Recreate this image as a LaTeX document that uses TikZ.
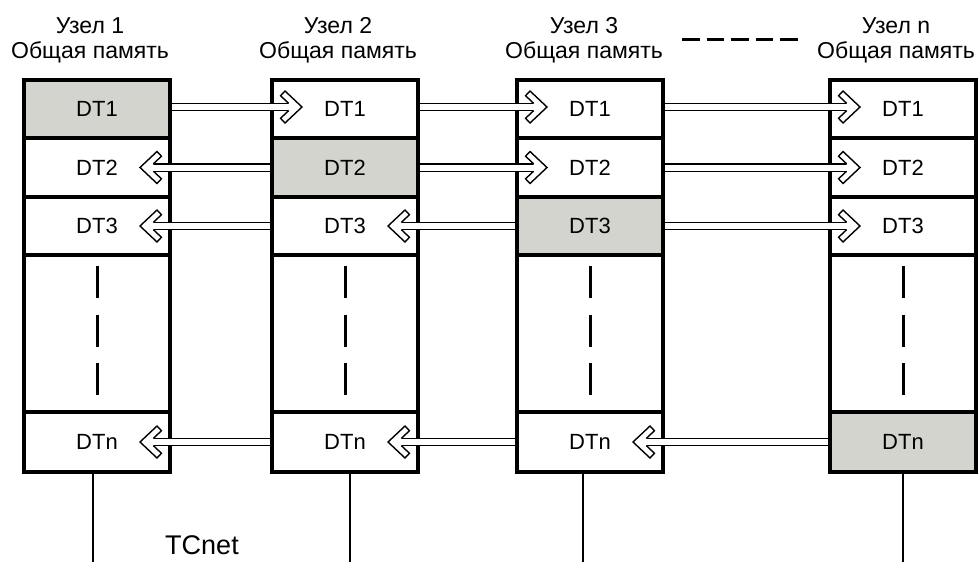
\documentclass[tikz,border=0pt]{standalone}
\usepackage{fontspec}
\setmainfont{Liberation Sans}
\usepackage{tikz}
\usetikzlibrary{positioning}
\usepackage{xcolor}

\definecolor{cellgray}{RGB}{212,212,207}

% hollow chevron head for the double transfer lines
\pgfdeclarearrow{
  name = Chevron,
  setup code = {
    \pgfarrowssettipend{0pt}
    \pgfarrowssetlineend{-12pt}
    \pgfarrowssetvisualbackend{-12pt}
    \pgfarrowssetbackend{-22pt}
    \pgfarrowshullpoint{0pt}{0pt}
    \pgfarrowshullpoint{-22pt}{17pt}
    \pgfarrowshullpoint{-22pt}{-17pt}
  },
  drawing code = {
    \pgfsetlinewidth{1.4pt}
    \pgfsetmiterjoin
    \pgfsetbuttcap
    \pgfsetfillcolor{white}
    \pgfsetstrokecolor{black}
    \pgfpathmoveto{\pgfqpoint{-13.4pt}{3.7pt}}
    \pgfpathlineto{\pgfqpoint{-21.45pt}{11.27pt}}
    \pgfpathlineto{\pgfqpoint{-17pt}{16pt}}
    \pgfpathlineto{\pgfqpoint{0pt}{0pt}}
    \pgfpathlineto{\pgfqpoint{-17pt}{-16pt}}
    \pgfpathlineto{\pgfqpoint{-21.45pt}{-11.27pt}}
    \pgfpathlineto{\pgfqpoint{-13.4pt}{-3.7pt}}
    \pgfusepathqfillstroke
  }
}

\tikzset{
    cell/.style={draw, line width=3.5pt, minimum width=146pt, inner sep=0pt,
        outer sep=0pt, font=\fontsize{22}{26}\selectfont},
    owncell/.style={cell, fill=cellgray},
    head/.style={anchor=base, font=\fontsize{23}{27}\selectfont},
    xfer/.style={line width=1.4pt, double=white, double distance=6pt, -{Chevron}},
    vgap/.style={line width=3pt, dash pattern=on 32pt off 16.5pt},
    bus/.style={line width=2pt}
}

\begin{document}
\begin{tikzpicture}[x=1pt, y=-1pt]

    \useasboundingbox (0, 0) rectangle (979, 562);

    % Coordinates for the top left corners of the nodes
    \coordinate (C1) at (24, 80);    % Узел 1
    \coordinate (C2) at (272, 80);   % Узел 2
    \coordinate (C3) at (517, 80);   % Узел 3
    \coordinate (C4) at (830, 80);   % Узел n

    % Headers
    \node[head] (h1) at (90, 33) {Узел 1};
    \node[head] (m1) at (90, 58) {Общая память};
    \node[head] (h2) at (338, 33) {Узел 2};
    \node[head] (m2) at (338, 58) {Общая память};
    \node[head] (h3) at (584, 33) {Узел 3};
    \node[head] (m3) at (584, 58) {Общая память};
    \node[head] (h4) at (896, 33) {Узел n};
    \node[head] (m4) at (896, 58) {Общая память};
    \draw[line width=3pt, dash pattern=on 17.5pt off 7pt] (682, 39) -- (798, 39);

    % Node 1
    \node[owncell, anchor=north west, minimum height=58pt] (n1dt1) at (C1) {DT1};
    \node[cell, minimum height=59pt, below=0pt of n1dt1] (n1dt2) {DT2};
    \node[cell, minimum height=58pt, below=0pt of n1dt2] (n1dt3) {DT3};
    \node[cell, minimum height=157pt, below=0pt of n1dt3] (n1gap) {};
    \node[cell, minimum height=60pt, below=0pt of n1gap] (n1dtn) {DTn};

    % Node 2
    \node[cell, anchor=north west, minimum height=58pt] (n2dt1) at (C2) {DT1};
    \node[owncell, minimum height=59pt, below=0pt of n2dt1] (n2dt2) {DT2};
    \node[cell, minimum height=58pt, below=0pt of n2dt2] (n2dt3) {DT3};
    \node[cell, minimum height=157pt, below=0pt of n2dt3] (n2gap) {};
    \node[cell, minimum height=60pt, below=0pt of n2gap] (n2dtn) {DTn};

    % Node 3
    \node[cell, anchor=north west, minimum height=58pt] (n3dt1) at (C3) {DT1};
    \node[cell, minimum height=59pt, below=0pt of n3dt1] (n3dt2) {DT2};
    \node[owncell, minimum height=58pt, below=0pt of n3dt2] (n3dt3) {DT3};
    \node[cell, minimum height=157pt, below=0pt of n3dt3] (n3gap) {};
    \node[cell, minimum height=60pt, below=0pt of n3gap] (n3dtn) {DTn};

    % Node n
    \node[cell, anchor=north west, minimum height=58pt] (n4dt1) at (C4) {DT1};
    \node[cell, minimum height=59pt, below=0pt of n4dt1] (n4dt2) {DT2};
    \node[cell, minimum height=58pt, below=0pt of n4dt2] (n4dt3) {DT3};
    \node[cell, minimum height=157pt, below=0pt of n4dt3] (n4gap) {};
    \node[owncell, minimum height=60pt, below=0pt of n4gap] (n4dtn) {DTn};

    % Dashed lines in the gaps
    \draw[vgap] ([yshift=-11pt]n1gap.north) -- ([yshift=17pt]n1gap.south);
    \draw[vgap] ([yshift=-11pt]n2gap.north) -- ([yshift=17pt]n2gap.south);
    \draw[vgap] ([yshift=-11pt]n3gap.north) -- ([yshift=17pt]n3gap.south);
    \draw[vgap] ([yshift=-11pt]n4gap.north) -- ([yshift=17pt]n4gap.south);

    % Transfers of DT1
    \draw[xfer] ([xshift=1.75pt, yshift=2pt]n1dt1.east) -- ([xshift=30pt, yshift=2pt]n2dt1.west);
    \draw[xfer] ([xshift=1.75pt, yshift=2pt]n2dt1.east) -- ([xshift=30pt, yshift=2pt]n3dt1.west);
    \draw[xfer] ([xshift=1.75pt, yshift=2pt]n3dt1.east) -- ([xshift=30pt, yshift=2pt]n4dt1.west);

    % Transfers of DT2
    \draw[xfer] ([xshift=-1.75pt]n2dt2.west) -- ([xshift=-30pt]n1dt2.east);
    \draw[xfer] ([xshift=1.75pt]n2dt2.east) -- ([xshift=30pt]n3dt2.west);
    \draw[xfer] ([xshift=1.75pt]n3dt2.east) -- ([xshift=30pt]n4dt2.west);

    % Transfers of DT3
    \draw[xfer] ([xshift=-1.75pt]n2dt3.west) -- ([xshift=-30pt]n1dt3.east);
    \draw[xfer] ([xshift=-1.75pt]n3dt3.west) -- ([xshift=-30pt]n2dt3.east);
    \draw[xfer] ([xshift=1.75pt]n3dt3.east) -- ([xshift=30pt]n4dt3.west);

    % Transfers of DTn
    \draw[xfer] ([xshift=-1.75pt]n2dtn.west) -- ([xshift=-30pt]n1dtn.east);
    \draw[xfer] ([xshift=-1.75pt]n3dtn.west) -- ([xshift=-30pt]n2dtn.east);
    \draw[xfer] ([xshift=-1.75pt]n4dtn.west) -- ([xshift=-30pt]n3dtn.east);

    % Network lines
    \coordinate (B1) at (93, 562);
    \coordinate (B2) at (350, 562);
    \coordinate (B3) at (583, 562);
    \coordinate (B4) at (903, 562);
    \draw[bus] ([xshift=-4pt]n1dtn.south) -- (B1);
    \draw[bus] ([xshift=5pt]n2dtn.south) -- (B2);
    \draw[bus] ([xshift=-7pt]n3dtn.south) -- (B3);
    \draw[bus] (n4dtn.south) -- (B4);
    \node[font=\fontsize{27}{31}\selectfont] (net) at (202, 545) {TCnet};

\end{tikzpicture}
\end{document}
